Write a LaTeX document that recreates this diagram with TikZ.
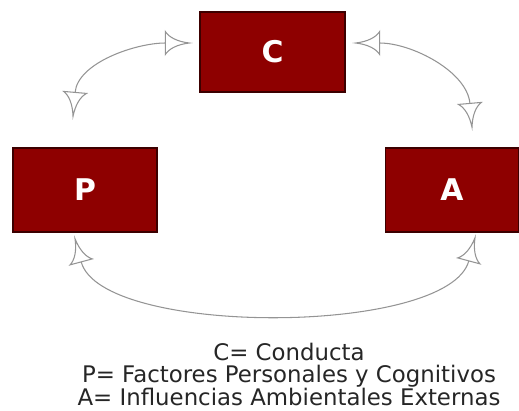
\documentclass[tikz,border=0pt]{standalone}
\usepackage{fontspec}
\setmainfont{DejaVu Sans}
\usetikzlibrary{positioning, arrows.meta, calc}
\definecolor{boxred}{RGB}{142,0,0}
\definecolor{boxrim}{RGB}{60,0,0}
\definecolor{linkgray}{gray}{0.58}
\definecolor{ink}{gray}{0.15}

% open head: straight back bar, hollowed sides
\pgfdeclarearrow{
  name=Vane,
  parameters={\the\pgfarrowlength,\the\pgfarrowwidth},
  setup code={
    \pgfarrowssettipend{0pt}
    \pgfarrowssetbackend{-\pgfarrowlength}
    \pgfarrowssetlineend{-\pgfarrowlength}
    \pgfarrowssavethe\pgfarrowlength
    \pgfarrowssavethe\pgfarrowwidth
  },
  drawing code={
    \pgfpathmoveto{\pgfqpoint{0pt}{0pt}}
    \pgfpathcurveto{\pgfqpoint{-.5\pgfarrowlength}{.06\pgfarrowwidth}}
      {\pgfqpoint{-.85\pgfarrowlength}{.25\pgfarrowwidth}}
      {\pgfqpoint{-\pgfarrowlength}{.5\pgfarrowwidth}}
    \pgfpathlineto{\pgfqpoint{-\pgfarrowlength}{-.5\pgfarrowwidth}}
    \pgfpathcurveto{\pgfqpoint{-.85\pgfarrowlength}{-.25\pgfarrowwidth}}
      {\pgfqpoint{-.5\pgfarrowlength}{-.06\pgfarrowwidth}}
      {\pgfqpoint{0pt}{0pt}}
    \pgfpathclose
    \pgfusepathqstroke
  },
  defaults={length=.48cm, width=.46cm}
}

\tikzset{
  factor/.style={draw=boxrim, fill=boxred, line width=.8pt, text=white,
    font=\fontsize{17}{17}\selectfont\bfseries, inner sep=0pt},
  link/.style={draw=linkgray, line width=.6pt, {Vane}-{Vane}}
}

\begin{document}
\begin{tikzpicture}[x=0.02cm, y=-0.02cm]
\useasboundingbox (0,0) rectangle (519,410);

\node[factor, minimum width=2.9cm, minimum height=1.6cm] (C) at (272.5,52) {C};
\node[factor, minimum width=2.88cm, minimum height=1.68cm] (P) at (85,190) {P};
\node[factor, minimum width=2.66cm, minimum height=1.68cm] (A) at (452,190) {A};

% tips sit a little off the boxes, as in the original
\draw[link] ([xshift=-.24cm, yshift=.62cm]P.north) to[out=85, in=180]
  ([xshift=-.2cm, yshift=.18cm]C.west);
\draw[link] ([xshift=.2cm, yshift=.18cm]C.east) to[out=0, in=95]
  ([xshift=.4cm, yshift=.4cm]A.north);
\draw[link] ([xshift=-.2cm, yshift=-.12cm]P.south) to[out=-75, in=-105, looseness=.65]
  ([xshift=.46cm, yshift=-.1cm]A.south);

\node[text=ink, align=center, font=\fontsize{13}{12.8}\selectfont] (key) at (289,374)
  {C= Conducta\\P= Factores Personales y Cognitivos\\A= Influencias Ambientales Externas};
\end{tikzpicture}
\end{document}
